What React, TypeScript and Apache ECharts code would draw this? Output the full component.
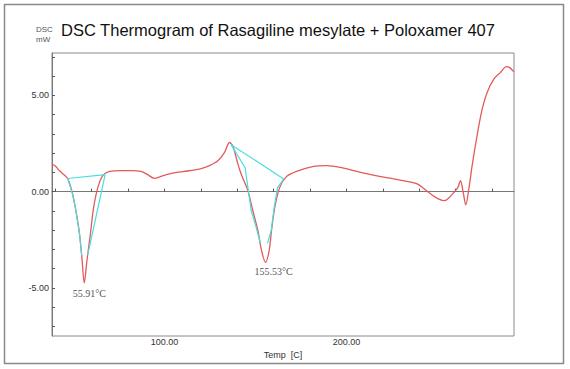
import React, { useEffect, useRef } from "react";
import * as echarts from "echarts";

// Red DSC trace: temperature (°C) and heat flow (mW)
const tempC = [38.2, 40, 42.4, 44.5, 46.8, 48.3, 49.5, 51.3, 53.3, 54.6, 55.91, 57.4, 59.3, 61.1, 63.4, 66.1, 69.8, 76.2, 82, 87.1, 90.7, 94.4, 98.2, 102.7, 110, 119.2, 124.7, 129.3, 133, 135.7, 137.5, 140.3, 142.1, 145.8, 148.5, 151.3, 153.3, 155.53, 157.5, 158.8, 160.6, 163.3, 167, 172.5, 181.9, 189.2, 196.5, 203.8, 211.4, 218.8, 226, 233.3, 238.8, 244.3, 248.9, 253.4, 255.3, 259, 261.2, 262.6, 264.1, 265.5, 267.2, 269, 271.7, 274.5, 277.2, 280.9, 284.5, 287.8, 289.6, 291.5, 292];
const dscMw = [1.42, 1.33, 1.08, 0.9, 0.68, 0.3, -0.12, -0.98, -2.19, -3.4, -4.75, -3.58, -2.19, -0.81, 0.22, 0.83, 1.05, 1.09, 1.09, 1.05, 0.88, 0.69, 0.79, 0.92, 1.04, 1.17, 1.35, 1.6, 2.04, 2.55, 2.38, 1.44, 0.92, 0.05, -0.98, -2.02, -3.06, -3.68, -3.06, -2.02, -0.81, 0.22, 0.78, 1.05, 1.31, 1.35, 1.26, 1.09, 0.92, 0.78, 0.66, 0.53, 0.4, 0.02, -0.3, -0.47, -0.41, -0.04, 0.22, 0.57, -0.04, -0.69, 0.14, 1.35, 2.9, 4.28, 5.14, 5.84, 6.18, 6.49, 6.44, 6.27, 6.23];

// Cyan analysis construction lines (baseline + flanks) for the two endotherms
const peak1Left = [[67.4, 0.88], [46.8, 0.68], [49.5, -0.12], [51.3, -0.98], [53.3, -2.19], [54.5, -3.3]];
const peak1Right = [[67.4, 0.88], [57.8, -3.3]];
const peak2Left = [[165.5, 0.66], [136.6, 2.44], [144.3, 1.24], [147.6, -0.98], [150.4, -1.87], [152.7, -2.69]];
const peak2Right = [[165.5, 0.66], [162.1, 0.21], [160.4, -0.73], [158.6, -2.02], [156.6, -2.69]];

// Peak annotations
const peakTemps = [55.91, 155.53];
const peakValues = [-4.75, -3.68];
const peakTexts = ["55.91°C", "155.53°C"];

const xTicks = [40, 60, 80, 100, 120, 140, 160, 180, 200, 220, 240, 260, 280];
const xLabels = [100, 200];
const yTicks = [-7, -6, -5, -4, -3, -2, -1, 0, 1, 2, 3, 4, 5, 6, 7];
const yLabels = [-5, 0, 5];

const TITLE = "DSC Thermogram of Rasagiline mesylate + Poloxamer 407";

export default function App() {
  const ref = useRef<HTMLDivElement>(null);
  useEffect(() => {
    if (!ref.current) return;
    const chart = echarts.init(ref.current, null, { renderer: "svg" });
    const cyan = "#48dede";
    const cyanLine = (data: number[][]) => ({
      type: "line",
      data,
      showSymbol: false,
      symbol: "none",
      lineStyle: { color: cyan, width: 1.2 },
      z: 3,
    });
    chart.setOption({
      animation: false,
      backgroundColor: "#ffffff",
      title: {
        text: TITLE,
        left: 61,
        top: 21,
        padding: 0,
        textStyle: { fontFamily: "Liberation Sans, Arial", fontSize: 16.5, fontWeight: "normal", color: "#111" },
      },
      graphic: [
        { type: "rect", shape: { x: 4.5, y: 4.5, width: 559, height: 359 }, style: { fill: "none", stroke: "#8a8a8a", lineWidth: 1.5 } },
        { type: "text", left: 36, top: 25, style: { text: "DSC", fontSize: 8, fontFamily: "Liberation Sans, Arial", fill: "#555" } },
        { type: "text", left: 36, top: 35, style: { text: "mW", fontSize: 8, fontFamily: "Liberation Sans, Arial", fill: "#555" } },
      ],
      grid: { left: 52, right: 56, top: 53, bottom: 33, show: true, borderColor: "#8a8a8a", borderWidth: 1, backgroundColor: "transparent" },
      xAxis: {
        type: "value",
        min: 38.2,
        max: 292,
        name: "Temp  [C]",
        nameLocation: "middle",
        nameGap: 12,
        nameTextStyle: { fontFamily: "Liberation Sans, Arial", fontSize: 9, color: "#333" },
        axisLine: { lineStyle: { color: "#777" } },
        axisTick: { inside: true, length: 3, customValues: xTicks, lineStyle: { color: "#555" } },
        axisLabel: { customValues: xLabels, formatter: (v: number) => v.toFixed(2), fontFamily: "Liberation Sans, Arial", fontSize: 9, color: "#333", margin: 1 },
        splitLine: { show: false },
      },
      yAxis: {
        type: "value",
        min: -7.5,
        max: 7.2,
        axisLine: { show: true, lineStyle: { color: "#777" } },
        axisTick: { show: true, inside: true, length: 3, customValues: yTicks, lineStyle: { color: "#555" } },
        axisLabel: { customValues: yLabels, formatter: (v: number) => v.toFixed(2), fontFamily: "Liberation Sans, Arial", fontSize: 9, color: "#333", margin: 3 },
        splitLine: { show: false },
      },
      series: [
        {
          type: "line",
          data: tempC.map((t, i) => [t, dscMw[i]]),
          showSymbol: false,
          symbol: "none",
          smooth: 0.3,
          lineStyle: { color: "#e35a5a", width: 1.3 },
          z: 2,
        },
        cyanLine(peak1Left),
        cyanLine(peak1Right),
        cyanLine(peak2Left),
        cyanLine(peak2Right),
        {
          type: "scatter",
          data: peakTemps.map((t, i) => ({
            value: [t, peakValues[i]],
            label: { offset: [i === 0 ? 5 : 8, 0], distance: i === 0 ? 5 : 4 },
          })),
          symbolSize: 0,
          label: {
            show: true,
            position: "bottom",
            formatter: (p: any) => peakTexts[p.dataIndex],
            fontFamily: "Liberation Serif, Times New Roman, serif",
            fontSize: 10,
            color: "#222",
          },
          z: 4,
        },
      ],
    });
    return () => chart.dispose();
  }, []);
  return <div ref={ref} style={{ position: "absolute", left: 0, top: 0, width: 570, height: 369 }} />;
}
